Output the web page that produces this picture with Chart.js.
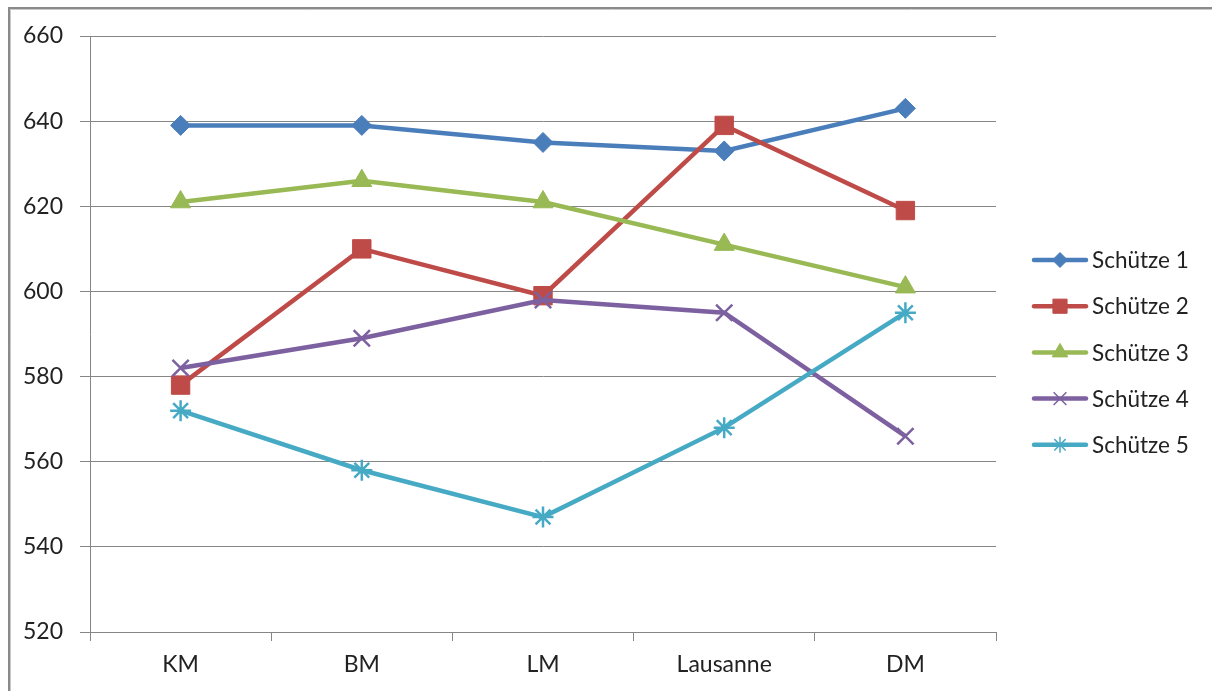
<!DOCTYPE html>
<html>
<head>
<meta charset="utf-8">
<title>Schützen-Resultate</title>
<script src="https://cdn.jsdelivr.net/npm/chart.js@4.4.1/dist/chart.umd.min.js"></script>
<style>
  html, body { margin: 0; padding: 0; background: #ffffff; }
  #wrap { position: relative; width: 1212px; height: 691px; }
</style>
</head>
<body>
<div id="wrap"><canvas id="chart" width="1212" height="691"></canvas></div>
<script>
// Wettkämpfe (Kategorien)
const categories = ['KM', 'BM', 'LM', 'Lausanne', 'DM'];

// Resultate pro Schütze
const seriesNames = ['Schütze 1', 'Schütze 2', 'Schütze 3', 'Schütze 4', 'Schütze 5'];
const schuetze1 = [639, 639, 635, 633, 643];
const schuetze2 = [578, 610, 599, 639, 619];
const schuetze3 = [621, 626, 621, 611, 601];
const schuetze4 = [582, 589, 598, 595, 566];
const schuetze5 = [572, 558, 547, 568, 595];

// Y-Achse
const yMin = 520;
const yMax = 660;
const yStep = 20;

const seriesValues = [schuetze1, schuetze2, schuetze3, schuetze4, schuetze5];
const colors = ['#4A7EBB', '#BE4B48', '#98B954', '#7D60A0', '#46AAC5'];
const styles = ['rectRot', 'rect', 'triangle', 'crossRot', 'star'];
const radii = [10, 13, 11.5, 11.5, 10.5];
const borderWidths = [1, 1, 1, 2.5, 2.5];
const legendRadii = [7.5, 10, 9, 9, 8];

const FONT = 'Lato, "Open Sans", "DejaVu Sans", sans-serif';
const AXIS_GREY = '#868686';
const TEXT = '#222222';

const datasets = seriesNames.map((name, i) => ({
  label: name,
  data: seriesValues[i],
  borderColor: colors[i],
  backgroundColor: colors[i],
  borderWidth: 4.5,
  tension: 0,
  pointStyle: styles[i],
  pointRadius: radii[i],
  pointHoverRadius: radii[i],
  pointBorderWidth: borderWidths[i],
  pointBackgroundColor: colors[i],
  pointBorderColor: colors[i],
  order: seriesNames.length - 1 - i
}));

// Hintergrund und Rahmen
const framePlugin = {
  id: 'frame',
  beforeDraw(chart) {
    const ctx = chart.ctx;
    ctx.save();
    ctx.fillStyle = '#ffffff';
    ctx.fillRect(0, 0, chart.width, chart.height);
    ctx.strokeStyle = '#8a8a8a';
    ctx.lineWidth = 2;
    ctx.beginPath();
    ctx.moveTo(9, chart.height);
    ctx.lineTo(9, 8);
    ctx.lineTo(chart.width, 8);
    ctx.stroke();
    ctx.strokeStyle = '#c8c8c8';
    ctx.lineWidth = 1;
    ctx.beginPath();
    ctx.moveTo(10.5, chart.height);
    ctx.lineTo(10.5, 9.5);
    ctx.lineTo(chart.width, 9.5);
    ctx.stroke();
    ctx.restore();
  }
};

// Legende rechts: Linie mit Markierung in der Mitte
const lineLegendPlugin = {
  id: 'lineLegend',
  afterDraw(chart) {
    const ctx = chart.ctx;
    const x0 = 1034, x1 = 1086, textX = 1092;
    const top = 260, gap = 46.2;
    ctx.save();
    chart.data.datasets.forEach((ds, i) => {
      const y = top + i * gap;
      ctx.strokeStyle = ds.borderColor;
      ctx.lineWidth = 4.5;
      ctx.lineCap = 'round';
      ctx.beginPath();
      ctx.moveTo(x0, y);
      ctx.lineTo(x1, y);
      ctx.stroke();
      ctx.lineCap = 'butt';
      ctx.fillStyle = ds.pointBackgroundColor;
      ctx.strokeStyle = ds.pointBorderColor;
      ctx.lineWidth = ds.pointBorderWidth > 1 ? 1.5 : 1;
      Chart.helpers.drawPoint(ctx, {
        pointStyle: ds.pointStyle,
        radius: legendRadii[i],
        borderWidth: ctx.lineWidth,
        rotation: 0
      }, (x0 + x1) / 2, y);
      ctx.fillStyle = TEXT;
      ctx.font = '22.5px ' + FONT;
      ctx.textAlign = 'left';
      ctx.textBaseline = 'middle';
      ctx.fillText(ds.label, textX, y + 1);
    });
    ctx.restore();
  }
};

new Chart(document.getElementById('chart'), {
  type: 'line',
  data: { labels: categories, datasets },
  plugins: [framePlugin, lineLegendPlugin],
  options: {
    responsive: false,
    animation: false,
    devicePixelRatio: 1,
    layout: { padding: { left: 0, top: 36, right: 216, bottom: 0 } },
    plugins: {
      legend: { display: false },
      tooltip: { enabled: false },
      title: { display: false }
    },
    scales: {
      x: {
        type: 'category',
        offset: true,
        afterFit(scale) { scale.height = 59; },
        grid: {
          offset: true,
          drawOnChartArea: false,
          drawTicks: true,
          tickLength: 9,
          color: AXIS_GREY,
          lineWidth: 1
        },
        border: { display: true, color: AXIS_GREY, width: 1 },
        ticks: {
          padding: 10,
          color: TEXT,
          font: { family: FONT, size: 23 },
          maxRotation: 0
        }
      },
      y: {
        min: yMin,
        max: yMax,
        afterFit(scale) { scale.width = 90; },
        grid: {
          drawOnChartArea: true,
          drawTicks: true,
          tickLength: 10,
          color: AXIS_GREY,
          lineWidth: 1
        },
        border: { display: true, color: AXIS_GREY, width: 1 },
        ticks: {
          stepSize: yStep,
          padding: 17,
          color: TEXT,
          font: { family: FONT, size: 23 }
        }
      }
    }
  }
});
</script>
</body>
</html>
